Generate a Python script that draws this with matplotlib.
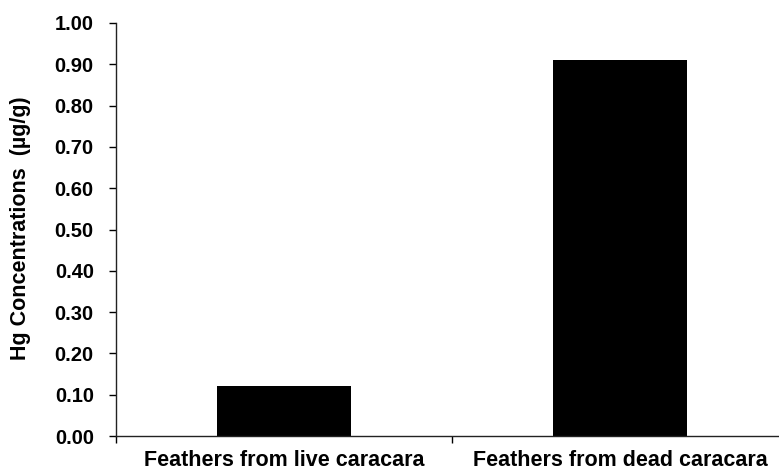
import numpy as np
import matplotlib.pyplot as plt
from matplotlib.ticker import FormatStrFormatter

categories = ['Feathers from live caracara', 'Feathers from dead caracara']
hg_values = [0.12, 0.91]
y_ticks = [0.0, 0.1, 0.2, 0.3, 0.4, 0.5, 0.6, 0.7, 0.8, 0.9, 1.0]

plt.rcParams['font.family'] = ['Liberation Sans', 'DejaVu Sans']
plt.rcParams['font.weight'] = 'bold'

fig = plt.figure(figsize=(7.79, 4.74), dpi=100)
# axes runs a little past the right edge, like the cropped original
ax = fig.add_axes([116 / 779, 38 / 474, 672 / 779, 413 / 474])

x = np.arange(len(categories))
ax.bar(x, hg_values, width=0.4, color='black')

ax.set_xlim(-0.5, len(categories) - 0.5)
ax.set_ylim(0, 1.0)
ax.set_yticks(y_ticks)
ax.yaxis.set_major_formatter(FormatStrFormatter('%.2f'))

# labels at the bar centres, tick marks at the category borders
ax.set_xticks(x)
ax.set_xticklabels(categories, fontsize=15.5, fontweight='bold')
ax.tick_params(axis='x', which='major', length=0, pad=10)
ax.set_xticks(np.arange(-0.5, len(categories)), minor=True)
ax.tick_params(axis='x', which='minor', length=5, width=1, direction='out')

ax.tick_params(axis='y', length=5, width=1, direction='out', pad=11, labelsize=14.5)
for lab in ax.get_yticklabels():
    lab.set_fontweight('bold')

for side in ['top', 'right']:
    ax.spines[side].set_visible(False)
for side in ['left', 'bottom']:
    ax.spines[side].set_color('#222222')
    ax.spines[side].set_linewidth(1)

fig.text(21 / 779, 1 - 228.5 / 474, 'Hg Concentrations  (\u00b5g/g)', rotation=90,
         ha='center', va='center', fontsize=15.5, fontweight='bold')

fig.savefig('out.png', dpi=100)
